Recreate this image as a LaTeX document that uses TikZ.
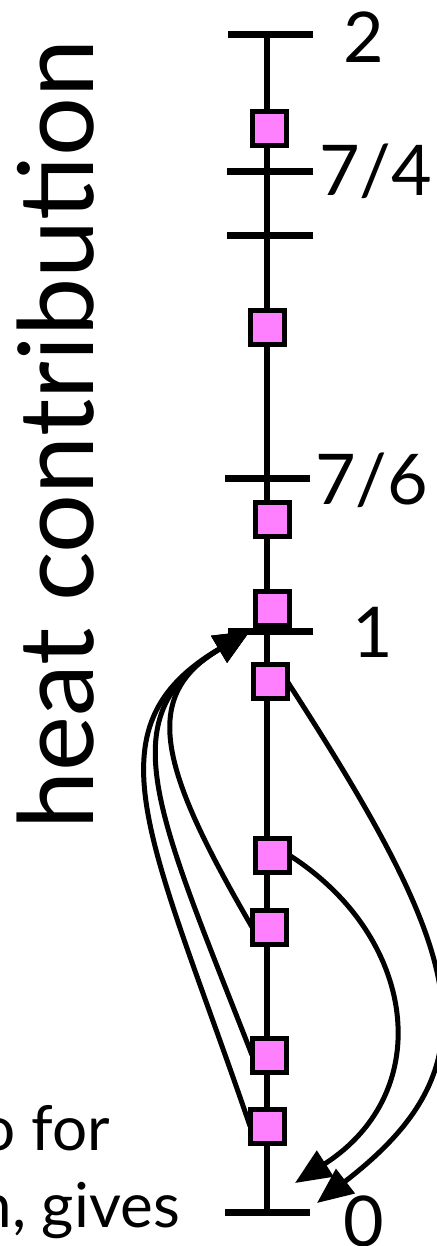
\documentclass[tikz,border=0pt]{standalone}
\usepackage{fontspec}
\setmainfont{Lato}
\usetikzlibrary{arrows.meta}
\definecolor{sqpink}{RGB}{255,128,255}
\begin{document}
\begin{tikzpicture}[x=1pt,y=-1pt,
  sq/.style={draw=black,line width=5pt,fill=sqpink,minimum size=34pt,inner sep=0pt,outer sep=0pt},
  axisline/.style={line width=6pt},
  tickline/.style={line width=7pt},
  conn/.style={line width=5pt,-{Triangle[length=36pt 0,width=30pt 0]}},
  lab/.style={font=\fontsize{70}{84}\selectfont,inner sep=0pt,anchor=base west},
  side/.style={font=\fontsize{62}{74}\selectfont,inner sep=0pt,anchor=base east},
]
\useasboundingbox (0,0) rectangle (436,1246);
% axis
\draw[axisline] (267,35) -- (267,1212);
% ticks
\draw[tickline] (228,35) -- (313,35);
\draw[tickline] (227,172) -- (313,172);
\draw[tickline] (227,236) -- (313,236);
\draw[tickline] (225,478) -- (310,478);
\draw[tickline] (228,631) -- (313,631);
\draw[tickline] (225,1212) -- (310,1212);
% labels
\node[lab] (l2) at (343,63) {2};
\node[lab] (l74) at (319,196) {7/4};
\node[lab] (l76) at (315,504) {7/6};
\node[lab] (l1) at (352,657) {1};
\node[lab] (l0) at (343,1246) {0};
% axis title
\node[font=\fontsize{104}{120}\selectfont,inner sep=0pt,rotate=90,anchor=base west] (title) at (93,830) {heat contribution};
% cut-off side text
\node[side] (t1) at (110,1150) {o for};
\node[side] (t2) at (180,1227) {n, gives};
% arrow targets
\coordinate (one) at (250,631);
\coordinate (zeroa) at (295,1183);
\coordinate (zerob) at (317,1203);
% squares
\node[sq] (s1) at (269,129) {};
\node[sq] (s2) at (267,327) {};
\node[sq] (s3) at (272,519) {};
\node[sq] (s4) at (272,608) {};
\node[sq] (s5) at (270,681) {};
\node[sq] (s6) at (272,855) {};
\node[sq] (s7) at (269,927) {};
\node[sq] (s8) at (269,1055) {};
\node[sq] (s9) at (267,1126) {};
% connectors
\draw[conn] (s9.west) .. controls (152,840) and (84,728) .. (one);
\draw[conn] (s8.west) .. controls (156,809) and (108,716) .. (one);
\draw[conn] (s7.west) .. controls (159,767) and (140,696) .. (one);
\draw[conn] (s5.east) .. controls (465,956) and (499,1063) .. (zerob);
\draw[conn] (s6.east) .. controls (416,936) and (438,1091) .. (zeroa);
\end{tikzpicture}
\end{document}
